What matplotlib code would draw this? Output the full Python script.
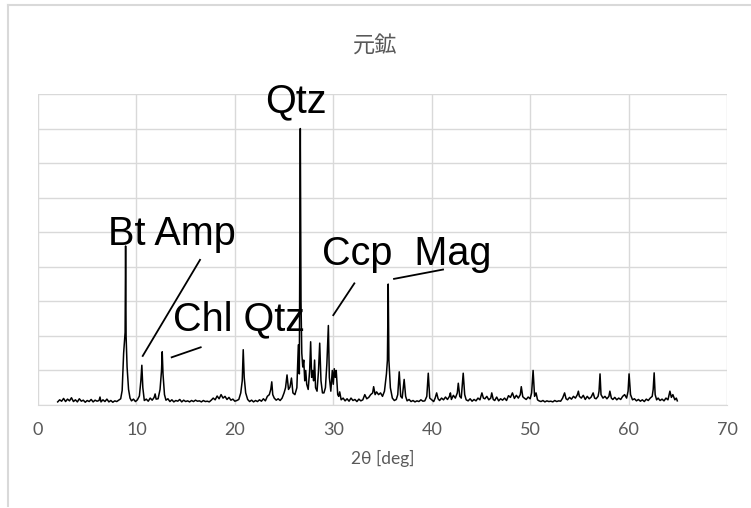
import matplotlib.pyplot as plt
from matplotlib.lines import Line2D

# XRD pattern (2theta in deg, intensity in counts)
two_theta = [
    2.0, 2.2, 2.4, 2.6, 2.8, 3.0, 3.2, 3.4, 3.6, 3.8,
    4.0, 4.2, 4.4, 4.6, 4.8, 5.0, 5.2, 5.4, 5.6, 5.8,
    6.0, 6.2, 6.3, 6.4, 6.6, 6.8, 7.0, 7.2, 7.4, 7.6,
    7.8, 8.0, 8.2, 8.4, 8.55, 8.7, 8.85, 8.9, 8.95, 9.05,
    9.2, 9.35, 9.5, 9.7, 9.9, 10.1, 10.3, 10.45, 10.55, 10.65,
    10.8, 11.0, 11.2, 11.4, 11.6, 11.8, 11.9, 12.0, 12.2, 12.4,
    12.55, 12.62, 12.7, 12.85, 13.0, 13.2, 13.4, 13.6, 13.8, 14.0,
    14.2, 14.4, 14.6, 14.8, 15.0, 15.2, 15.4, 15.6, 15.8, 16.0,
    16.2, 16.4, 16.6, 16.8, 17.0, 17.2, 17.4, 17.6, 17.8, 18.0,
    18.2, 18.4, 18.6, 18.8, 19.0, 19.2, 19.4, 19.6, 19.8, 20.0,
    20.2, 20.4, 20.6, 20.75, 20.85, 20.95, 21.1, 21.3, 21.5, 21.7,
    21.9, 22.1, 22.3, 22.5, 22.7, 22.9, 23.1, 23.3, 23.5, 23.65,
    23.75, 23.85, 24.0, 24.2, 24.4, 24.6, 24.8, 25.0, 25.15, 25.3,
    25.45, 25.6, 25.75, 25.9, 26.1, 26.3, 26.45, 26.55, 26.65, 26.72,
    26.8, 26.9, 27.0, 27.1, 27.2, 27.3, 27.45, 27.6, 27.7, 27.8,
    27.9, 28.0, 28.1, 28.2, 28.35, 28.5, 28.62, 28.75, 28.9, 29.05,
    29.2, 29.35, 29.5, 29.6, 29.75, 29.9, 30.0, 30.1, 30.2, 30.3,
    30.45, 30.55, 30.65, 30.8, 31.0, 31.2, 31.4, 31.6, 31.8, 32.0,
    32.2, 32.4, 32.6, 32.8, 33.0, 33.2, 33.4, 33.6, 33.8, 34.0,
    34.1, 34.25, 34.4, 34.6, 34.8, 35.0, 35.2, 35.4, 35.5, 35.58,
    35.65, 35.8, 36.0, 36.2, 36.4, 36.55, 36.7, 36.85, 37.0, 37.2,
    37.35, 37.5, 37.7, 37.9, 38.1, 38.3, 38.5, 38.7, 38.9, 39.1,
    39.3, 39.5, 39.65, 39.8, 40.0, 40.2, 40.35, 40.5, 40.65, 40.8,
    41.0, 41.2, 41.4, 41.6, 41.8, 41.9, 42.0, 42.2, 42.4, 42.6,
    42.7, 42.85, 43.0, 43.2, 43.35, 43.5, 43.7, 43.9, 44.1, 44.3,
    44.5, 44.7, 44.9, 45.1, 45.25, 45.4, 45.6, 45.8, 46.0, 46.1,
    46.25, 46.4, 46.6, 46.8, 47.0, 47.2, 47.4, 47.6, 47.8, 48.0,
    48.2, 48.4, 48.6, 48.8, 49.0, 49.1, 49.25, 49.4, 49.6, 49.8,
    50.0, 50.15, 50.3, 50.45, 50.6, 50.75, 50.9, 51.1, 51.3, 51.5,
    51.7, 51.9, 52.1, 52.3, 52.5, 52.7, 52.9, 53.1, 53.3, 53.5,
    53.65, 53.8, 54.0, 54.2, 54.4, 54.6, 54.8, 54.9, 55.0, 55.2,
    55.4, 55.6, 55.8, 56.0, 56.2, 56.4, 56.55, 56.7, 56.9, 57.0,
    57.1, 57.2, 57.4, 57.6, 57.8, 58.0, 58.1, 58.25, 58.4, 58.6,
    58.8, 59.0, 59.2, 59.4, 59.6, 59.8, 59.95, 60.05, 60.2, 60.4,
    60.6, 60.8, 61.0, 61.2, 61.4, 61.6, 61.8, 62.0, 62.2, 62.4,
    62.5, 62.6, 62.7, 62.85, 63.0, 63.2, 63.4, 63.6, 63.8, 64.0,
    64.2, 64.35, 64.5, 64.7, 64.85, 64.95,
]
counts = [
    90, 150, 110, 190, 100, 170, 120, 210, 100, 150,
    90, 180, 110, 140, 80, 130, 100, 160, 90, 140,
    110, 130, 230, 90, 150, 100, 170, 90, 130, 80,
    120, 100, 140, 180, 420, 1500, 2100, 4600, 2000, 1100,
    450, 200, 120, 170, 100, 150, 260, 700, 1150, 500,
    130, 170, 110, 200, 140, 220, 320, 170, 180, 450,
    1000, 1540, 900, 300, 140, 180, 100, 150, 90, 130,
    110, 160, 90, 140, 100, 120, 90, 130, 100, 140,
    110, 120, 90, 130, 100, 110, 90, 140, 200, 150,
    260, 180, 300, 200, 250, 160, 220, 140, 170, 110,
    130, 160, 350, 700, 1600, 800, 350, 160, 100, 140,
    90, 130, 100, 150, 110, 180, 120, 250, 300, 450,
    670, 300, 200, 140, 180, 130, 200, 350, 500, 870,
    450, 520, 780, 350, 300, 500, 1740, 900, 8000, 3000,
    1500, 1100, 1300, 700, 1000, 600, 450, 1000, 1830, 800,
    1000, 700, 1300, 500, 400, 1000, 1790, 700, 350, 350,
    500, 1200, 2300, 800, 400, 1000, 600, 1050, 800, 1000,
    300, 250, 380, 150, 200, 120, 180, 110, 200, 130,
    160, 100, 170, 120, 150, 300, 180, 220, 300, 350,
    530, 300, 380, 300, 350, 250, 400, 900, 1300, 3500,
    1300, 500, 200, 130, 160, 300, 960, 250, 200, 740,
    250, 120, 160, 100, 130, 90, 120, 100, 150, 110,
    120, 250, 920, 200, 150, 100, 200, 350, 180, 130,
    200, 150, 230, 160, 250, 350, 160, 280, 200, 350,
    630, 250, 200, 920, 300, 150, 120, 180, 110, 160,
    120, 200, 150, 350, 200, 180, 250, 150, 200, 350,
    160, 130, 230, 120, 180, 140, 200, 130, 270, 220,
    350, 190, 280, 200, 300, 530, 240, 200, 160, 230,
    180, 350, 1000, 250, 350, 150, 120, 100, 130, 90,
    120, 100, 110, 90, 130, 100, 120, 110, 200, 350,
    180, 150, 220, 170, 250, 200, 300, 400, 250, 200,
    280, 160, 250, 180, 230, 350, 200, 180, 250, 400,
    900, 300, 200, 250, 180, 250, 400, 200, 160, 220,
    150, 200, 160, 250, 300, 200, 400, 900, 300, 150,
    180, 120, 160, 110, 150, 100, 170, 130, 200, 250,
    450, 930, 300, 150, 200, 130, 170, 120, 200, 150,
    400, 220, 300, 150, 200, 120,
]

# phase labels: text, x, baseline y
label_texts = ['Qtz', 'Bt Amp', 'Chl Qtz', 'Ccp  Mag']
label_x = [26.2, 7.1, 13.7, 28.85]
label_y = [8480, 4630, 2170, 4050]
label_ha = ['center', 'left', 'left', 'left']

# leader lines (x0, x1), (y0, y1)
leader_x = [(10.64, 16.46), (13.58, 16.53), (30.0, 32.14), (36.17, 41.15)]
leader_y = [(1420, 4200), (1380, 1670), (2600, 3520), (3650, 3920)]

grey = '#595959'

fig = plt.figure(figsize=(7.51, 5.08), dpi=100)
ax = fig.add_axes([38 / 751, 1 - 405 / 508, 689 / 751, 311 / 508])

ax.plot(two_theta, counts, color='black', lw=1.1)

for (x0, x1), (y0, y1) in zip(leader_x, leader_y):
    ax.plot([x0, x1], [y0, y1], color='black', lw=1.3)

for t, x, y, ha in zip(label_texts, label_x, label_y, label_ha):
    ax.text(x, y, t, ha=ha, va='baseline', fontsize=28.5,
            family='Liberation Sans', color='black', clip_on=False)

ax.set_xlim(0, 70)
ax.set_ylim(0, 9000)
ax.set_xticks(range(0, 71, 10))
ax.set_yticks(range(0, 9001, 1000))
ax.set_yticklabels([])
ax.grid(True, color='#d9d9d9', lw=1)
ax.set_axisbelow(True)
ax.tick_params(length=0, labelsize=13, labelcolor=grey, pad=12)
for lab in ax.get_xticklabels():
    lab.set_family('Lato')
for s in ['top', 'right', 'left']:
    ax.spines[s].set_visible(False)
ax.spines['bottom'].set_color('#d9d9d9')
ax.set_xlabel('2θ [deg]', fontsize=12.5, color=grey, family='Lato', labelpad=9)

fig.text(0.5, 1 - 45 / 508, '元鉱', ha='center', va='center', fontsize=16,
         color=grey, family=['Noto Sans CJK JP', 'DejaVu Sans'])

# outer chart frame
fig.add_artist(Line2D([7.5 / 751, 7.5 / 751], [2 / 508, 1 - 5 / 508],
                      color='#d9d9d9', lw=1.5, transform=fig.transFigure))
fig.add_artist(Line2D([7.5 / 751, 1], [1 - 5 / 508, 1 - 5 / 508],
                      color='#d9d9d9', lw=1.5, transform=fig.transFigure))

fig.savefig('out.png', dpi=100)
